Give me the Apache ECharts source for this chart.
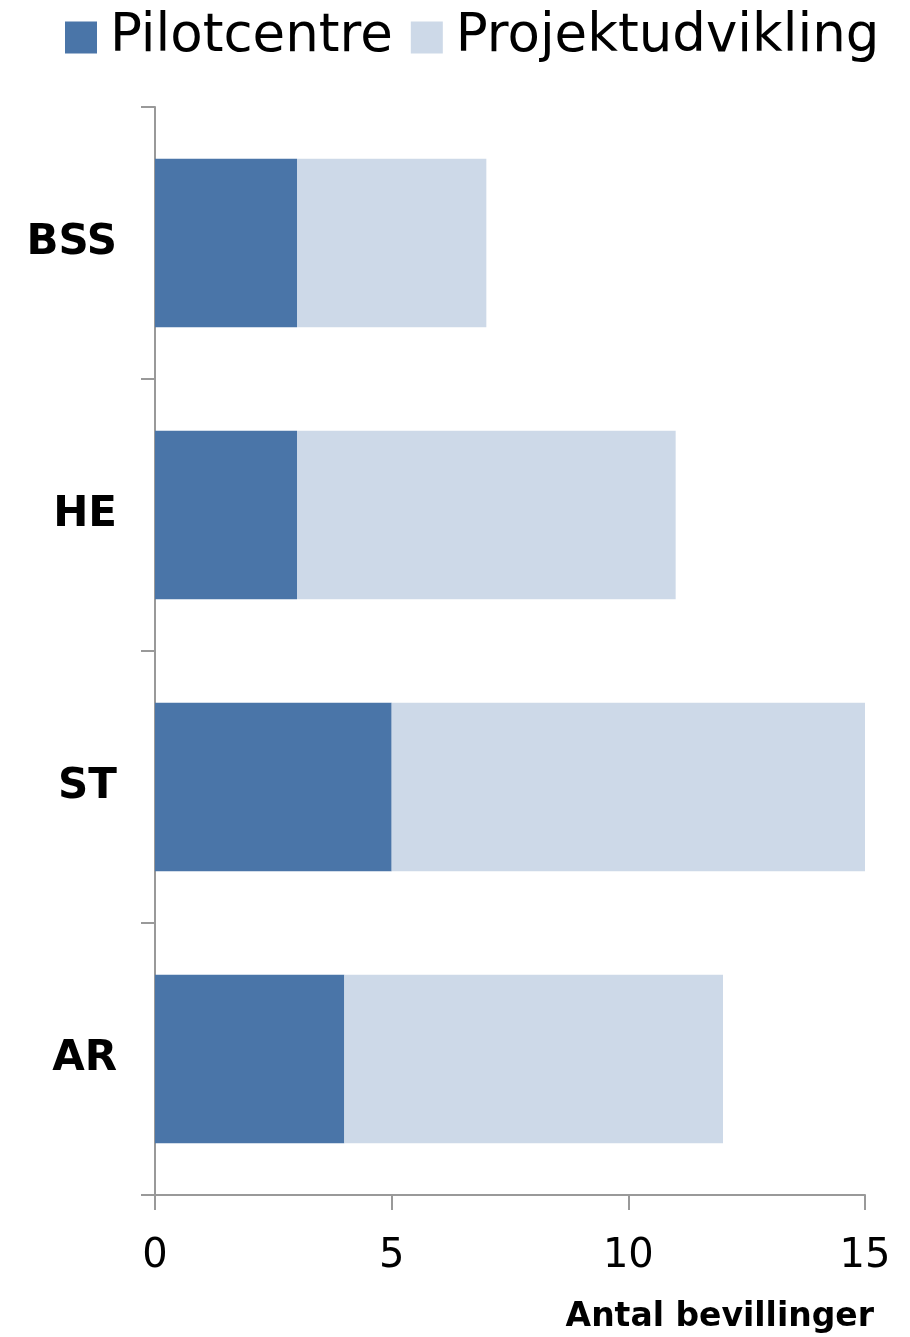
<!DOCTYPE html>
<html>
<head>
<meta charset="utf-8">
<script src="https://cdn.jsdelivr.net/npm/echarts@6/dist/echarts.min.js"></script>
<style>html,body{margin:0;padding:0;background:#fff}#c{width:910px;height:1337px}</style>
</head>
<body>
<div id="c"></div>
<script>
const categories = ['BSS', 'HE', 'ST', 'AR'];
const pilotcentre = [3, 3, 5, 4];
const projektudvikling = [4, 8, 10, 8];
const xTicks = [0, 5, 10, 15];

const chart = echarts.init(document.getElementById('c'));
chart.setOption({
  animation: false,
  backgroundColor: '#fff',
  title: {
    text: 'Antal bevillinger',
    right: 36, top: 1301, padding: 0,
    textStyle: { fontFamily: 'DejaVu Sans', fontWeight: 'bold', fontSize: 33, color: '#000' }
  },
  legend: {
    top: 6, left: 60,
    itemWidth: 32, itemHeight: 32, itemGap: 18,
    icon: 'rect',
    textStyle: { fontFamily: 'DejaVu Sans', fontSize: 53, color: '#000', padding: [0,0,0,8] },
    data: ['Pilotcentre', 'Projektudvikling']
  },
  grid: { left: 155, right: 45, top: 107, bottom: 142 },
  xAxis: {
    type: 'value', min: 0, max: 15, interval: 5,
    splitLine: { show: false },
    axisLine: { show: true, lineStyle: { color: '#999', width: 2 } },
    axisTick: { show: true, length: 15, lineStyle: { color: '#999', width: 2 } },
    axisLabel: { fontFamily: 'DejaVu Sans', fontSize: 40, color: '#000', margin: 42,
      formatter: v => xTicks.includes(v) ? String(v) : '' }
  },
  yAxis: {
    type: 'category', data: categories, inverse: true,
    axisLine: { show: true, lineStyle: { color: '#999', width: 2 } },
    axisTick: { show: true, length: 14, lineStyle: { color: '#999', width: 2 } },
    axisLabel: { fontFamily: 'DejaVu Sans', fontWeight: 'bold', fontSize: 42, color: '#000', margin: 38 }
  },
  series: [
    { name: 'Pilotcentre', type: 'bar', stack: 'a', data: pilotcentre, barCategoryGap: '38%',
      itemStyle: { color: '#4A75A8' } },
    { name: 'Projektudvikling', type: 'bar', stack: 'a', data: projektudvikling,
      itemStyle: { color: '#CDD9E8' } }
  ]
});
</script>
</body>
</html>
